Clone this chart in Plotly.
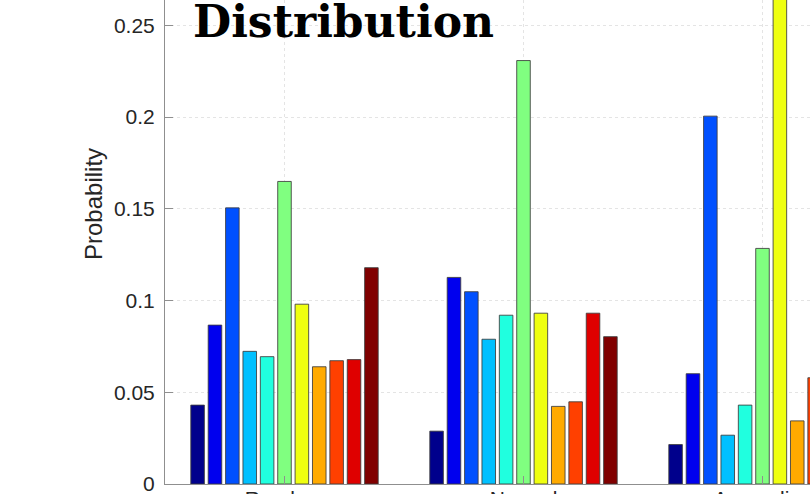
import plotly.graph_objects as go

# Probability of each of the 11 bins, per data class
classes = ["Random", "Normal", "Anomalies"]
bins = [f"Bin {i}" for i in range(1, 12)]

random_p = [0.0430, 0.0866, 0.1505, 0.0723, 0.0694, 0.1649, 0.0980, 0.0639, 0.0672, 0.0678, 0.1179]
normal_p = [0.0288, 0.1126, 0.1048, 0.0789, 0.0920, 0.2308, 0.0931, 0.0423, 0.0448, 0.0931, 0.0803]
anomaly_p = [0.0215, 0.0601, 0.2005, 0.0266, 0.0430, 0.1284, 0.2900, 0.0344, 0.0579, 0.0450, 0.0320]

bin_colors = ["#00008c", "#0000ee", "#0050ff", "#00c0ff", "#20ffdf", "#80ff80",
              "#efff10", "#ffaa00", "#ff4000", "#df0000", "#800000"]

y_ticks = [0, 0.05, 0.1, 0.15, 0.2, 0.25]

series = [random_p, normal_p, anomaly_p]
class_pos = list(range(len(classes)))

fig = go.Figure()
for i, name in enumerate(bins):
    fig.add_trace(go.Bar(
        x=class_pos,
        y=[s[i] for s in series],
        name=name,
        marker=dict(color=bin_colors[i], line=dict(color="rgba(60,60,60,0.85)", width=1)),
        showlegend=False,
    ))

axis_grey = "#8f8f8f"
tick_font = dict(family="Liberation Sans, Arial, sans-serif", size=21, color="#262626")

fig.update_layout(
    width=810, height=494,
    margin=dict(l=165, r=0, t=0, b=10, pad=0),
    paper_bgcolor="white", plot_bgcolor="white",
    barmode="group", bargap=0.2, bargroupgap=0.22,
    xaxis=dict(
        range=[-0.5, -0.5 + 645 / 239],
        tickvals=class_pos, ticktext=classes,
        ticks="inside", ticklen=8, tickcolor=axis_grey, tickwidth=1,
        showline=True, linecolor=axis_grey, linewidth=1,
        showgrid=True, gridcolor="#e4e4e4", griddash="dot", gridwidth=1,
        zeroline=False, tickfont=tick_font, automargin=False,
        ticklabeloverflow="allow", ticklabelstandoff=-4,
        layer="above traces",
    ),
    yaxis=dict(
        range=[0, 0.2638],
        tickvals=y_ticks,
        ticks="inside", ticklen=8, tickcolor=axis_grey, tickwidth=1,
        showline=True, linecolor=axis_grey, linewidth=1,
        showgrid=True, gridcolor="#e4e4e4", griddash="dot", gridwidth=1,
        zeroline=False, tickfont=tick_font, automargin=False,
        ticklabeloverflow="allow", ticklabelstandoff=5,
        layer="above traces",
    ),
    annotations=[
        dict(text="<b>Distribution</b>", xref="paper", yref="paper",
             x=(191 - 165) / 645, y=1.0 + 6 / 484, xanchor="left", yanchor="top",
             showarrow=False,
             font=dict(family="DejaVu Serif, serif", size=44, color="black")),
        dict(text="Probability", xref="paper", yref="paper",
             x=(93 - 165) / 645, y=(484 - 204) / 484, xanchor="center", yanchor="middle",
             textangle=-90, showarrow=False,
             font=dict(family="Liberation Sans, Arial, sans-serif", size=24, color="#262626")),
    ],
)

fig.write_html("out.html")
